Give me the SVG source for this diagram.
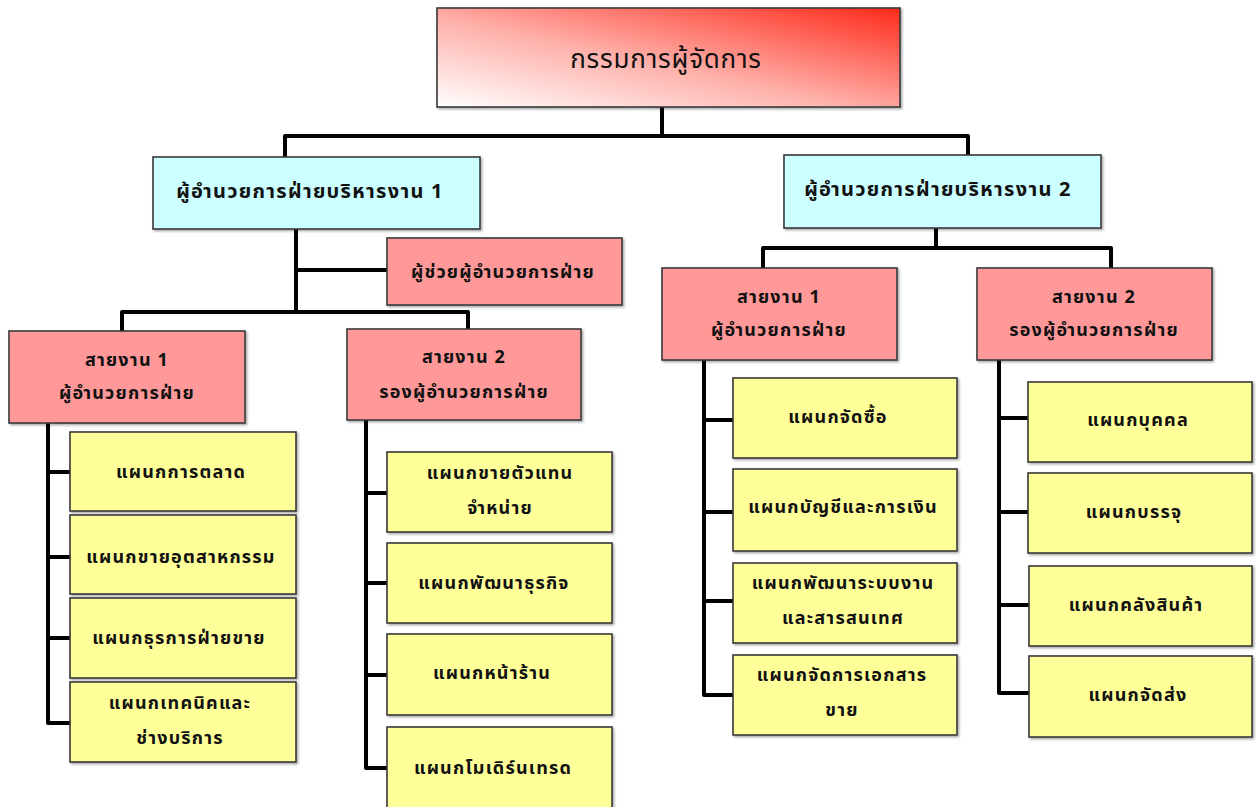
<svg xmlns="http://www.w3.org/2000/svg" width="1256" height="807" viewBox="0 0 1256 807">
<defs>
<linearGradient id="topg" x1="0" y1="1" x2="1" y2="0">
<stop offset="0" stop-color="#ffffff"/>
<stop offset="0.45" stop-color="#ffb0aa"/>
<stop offset="1" stop-color="#ff2a1a"/>
</linearGradient>
<filter id="sh" x="-5%" y="-5%" width="110%" height="115%">
<feDropShadow dx="1.5" dy="1.5" stdDeviation="0.8" flood-color="#000" flood-opacity="0.35"/>
</filter>
</defs>
<style>
.box{stroke:#3a3a3a;stroke-width:1.6;filter:url(#sh)}
.b{fill:#ccffff}
.p{fill:#ff9999}
.y{fill:#ffff99}
text{font-family:"Noto Sans Thai","Noto Sans","DejaVu Sans","Liberation Sans",sans-serif;fill:#111;text-anchor:middle;dominant-baseline:central;font-weight:bold}
.t1{font-size:26px;font-weight:normal;letter-spacing:0.8px}
.t2{font-size:20px;letter-spacing:1.3px}
.t3{font-size:18px;letter-spacing:1.2px}
.c{fill:none;stroke:#000;stroke-width:4;stroke-linejoin:round;stroke-linecap:square}
</style>
<rect width="1256" height="807" fill="#fff"/>
<g id="connectors">
<path class="c" d="M662 107V136M285 157V136H968V155"/>
<path class="c" d="M296 229V312M296 270H387M122 331V312H468V329"/>
<path class="c" d="M936 228V248M763 268V248H1111V268"/>
<path class="c" d="M48 423V723H70M48 472H70M48 557H70M48 638H70"/>
<path class="c" d="M366 420V768H387M366 493H387M366 583H387M366 675H387"/>
<path class="c" d="M704 360V695H733M704 420H733M704 512H733M704 601H733"/>
<path class="c" d="M999 360V693H1028M999 418H1028M999 512H1028M999 605H1028"/>
</g>
<g id="n-md"><rect class="box" x="437" y="8" width="463" height="99" fill="url(#topg)"/><text class="t1" x="666" y="60">กรรมการผู้จัดการ</text></g>
<g id="n-d1"><rect class="box b" x="153" y="157" width="327" height="72"/><text class="t2" x="310" y="192">ผู้อำนวยการฝ่ายบริหารงาน 1</text></g>
<g id="n-d2"><rect class="box b" x="784" y="155" width="317" height="73"/><text class="t2" x="938" y="190">ผู้อำนวยการฝ่ายบริหารงาน 2</text></g>
<g id="n-asst"><rect class="box p" x="387" y="238" width="235" height="67"/><text class="t3" x="503" y="272">ผู้ช่วยผู้อำนวยการฝ่าย</text></g>
<g id="n-l1"><rect class="box p" x="9" y="331" width="236" height="92"/><text class="t3" x="127" y="360">สายงาน 1</text><text class="t3" x="127" y="393">ผู้อำนวยการฝ่าย</text></g>
<g id="n-l2"><rect class="box p" x="347" y="329" width="234" height="91"/><text class="t3" x="464" y="357">สายงาน 2</text><text class="t3" x="464" y="392">รองผู้อำนวยการฝ่าย</text></g>
<g id="n-r1"><rect class="box p" x="662" y="268" width="235" height="92"/><text class="t3" x="779" y="297">สายงาน 1</text><text class="t3" x="779" y="330">ผู้อำนวยการฝ่าย</text></g>
<g id="n-r2"><rect class="box p" x="977" y="268" width="235" height="92"/><text class="t3" x="1094" y="297">สายงาน 2</text><text class="t3" x="1094" y="330">รองผู้อำนวยการฝ่าย</text></g>
<g id="n-a1"><rect class="box y" x="70" y="432" width="226" height="79"/><text class="t3" x="181" y="472">แผนกการตลาด</text></g>
<g id="n-a2"><rect class="box y" x="70" y="515" width="226" height="79"/><text class="t3" x="181" y="557">แผนกขายอุตสาหกรรม</text></g>
<g id="n-a3"><rect class="box y" x="70" y="598" width="226" height="80"/><text class="t3" x="179" y="638">แผนกธุรการฝ่ายขาย</text></g>
<g id="n-a4"><rect class="box y" x="70" y="682" width="226" height="80"/><text class="t3" x="180" y="703">แผนกเทคนิคและ</text><text class="t3" x="180" y="738">ช่างบริการ</text></g>
<g id="n-b1"><rect class="box y" x="387" y="452" width="225" height="80"/><text class="t3" x="500" y="473">แผนกขายตัวแทน</text><text class="t3" x="500" y="508">จำหน่าย</text></g>
<g id="n-b2"><rect class="box y" x="387" y="543" width="225" height="80"/><text class="t3" x="494" y="583">แผนกพัฒนาธุรกิจ</text></g>
<g id="n-b3"><rect class="box y" x="387" y="634" width="225" height="81"/><text class="t3" x="492" y="673">แผนกหน้าร้าน</text></g>
<g id="n-b4"><rect class="box y" x="387" y="727" width="225" height="90"/><text class="t3" x="493" y="768">แผนกโมเดิร์นเทรด</text></g>
<g id="n-c1"><rect class="box y" x="733" y="378" width="224" height="80"/><text class="t3" x="838" y="417">แผนกจัดซื้อ</text></g>
<g id="n-c2"><rect class="box y" x="733" y="469" width="224" height="82"/><text class="t3" x="843" y="507">แผนกบัญชีและการเงิน</text></g>
<g id="n-c3"><rect class="box y" x="733" y="563" width="224" height="80"/><text class="t3" x="843" y="583">แผนกพัฒนาระบบงาน</text><text class="t3" x="843" y="618">และสารสนเทศ</text></g>
<g id="n-c4"><rect class="box y" x="733" y="655" width="224" height="80"/><text class="t3" x="842" y="675">แผนกจัดการเอกสาร</text><text class="t3" x="842" y="710">ขาย</text></g>
<g id="n-d1y"><rect class="box y" x="1028" y="382" width="224" height="80"/><text class="t3" x="1138" y="420">แผนกบุคคล</text></g>
<g id="n-d2y"><rect class="box y" x="1028" y="473" width="224" height="80"/><text class="t3" x="1134" y="512">แผนกบรรจุ</text></g>
<g id="n-d3y"><rect class="box y" x="1029" y="566" width="223" height="80"/><text class="t3" x="1136" y="605">แผนกคลังสินค้า</text></g>
<g id="n-d4y"><rect class="box y" x="1029" y="656" width="223" height="81"/><text class="t3" x="1138" y="695">แผนกจัดส่ง</text></g>
</svg>
